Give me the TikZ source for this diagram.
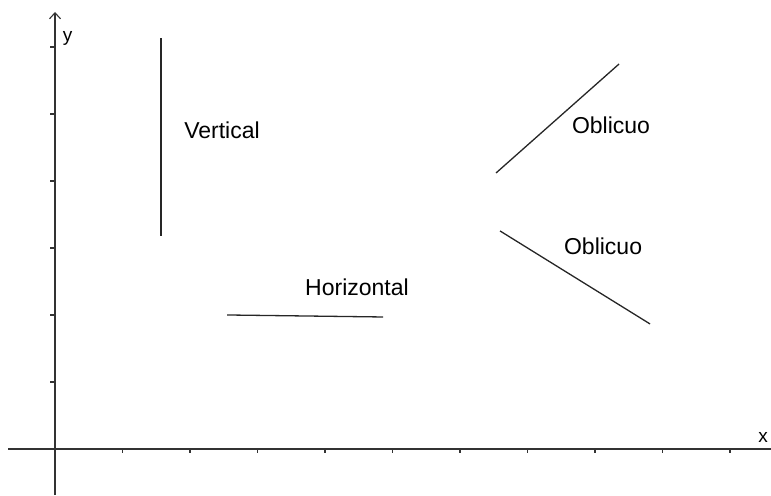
\documentclass[tikz,border=0pt]{standalone}
\usepackage{fontspec}
\setmainfont{Liberation Sans}
\usetikzlibrary{arrows.meta}
\tikzset{
  segment/.style={line width=1.3pt, draw=black!85},
  axis/.style={line width=1.1pt, draw=black!80},
  label/.style={font=\fontsize{23}{27}\selectfont, inner sep=0pt},
  axislabel/.style={font=\fontsize{19}{22}\selectfont, inner sep=0pt}
}
\begin{document}
\begin{tikzpicture}[x=67.5pt,y=67pt]
      \useasboundingbox (-0.815,-0.687) rectangle (10.607,6.701);
      % axes
      \coordinate (xstart) at (-0.696,0);
      \coordinate (xend) at (10.607,0);
      \coordinate (ystart) at (0,-0.687);
      \coordinate (yend) at (0,6.522);
      \draw[axis] (xstart) -- (xend);
      \draw[axis,-{Straight Barb[length=6pt,width=11pt]}] (ystart) -- (yend);
      \foreach \i in {1,...,10}
        \draw[axis] (\i,0) -- ++(0,-4pt);
      \foreach \j in {1,...,6}
        \draw[axis] (0,\j) -- ++(-5pt,0);
      \node[axislabel] (ylab) at (0.185,6.12) {y};
      \node[axislabel] (xlab) at (10.489,0.179) {x};
      % segments
      \coordinate (v1) at (1.570,3.179);
      \coordinate (v2) at (1.570,6.134);
      \coordinate (h1) at (2.548,2.000);
      \coordinate (h2) at (4.859,1.970);
      \coordinate (a1) at (6.533,4.119);
      \coordinate (a2) at (8.356,5.746);
      \coordinate (b1) at (6.593,3.254);
      \coordinate (b2) at (8.815,1.866);
      \draw[segment] (v1) -- (v2);
      \draw[segment] (h1) -- (h2);
      \draw[segment] (a1) -- (a2);
      \draw[segment] (b1) -- (b2);
      % labels
      \node[label] (vert) at (2.474,4.761) {Vertical};
      \node[label] (horiz) at (4.474,2.418) {Horizontal};
      \node[label] (obl1) at (8.237,4.836) {Oblicuo};
      \node[label] (obl2) at (8.119,3.030) {Oblicuo};
    \end{tikzpicture}
\end{document}
